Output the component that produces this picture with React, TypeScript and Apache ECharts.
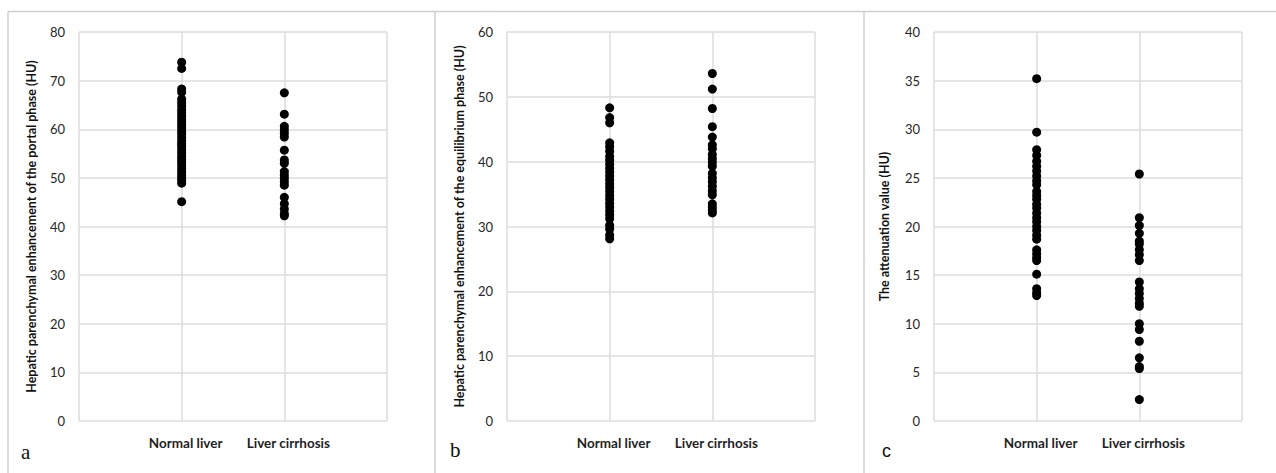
import React, { useEffect, useRef } from "react";
import * as echarts from "echarts";

const categories = ["Normal liver", "Liver cirrhosis"];

const portalNormal = [73.8, 72.5, 68.3, 67.6, 66.2, 65.5, 64.8, 64.0, 63.4, 62.8, 62.1, 61.5, 60.9, 60.3, 59.6, 59.0, 58.3, 57.6, 57.0, 56.5, 55.8, 55.1, 54.4, 53.8, 53.2, 52.6, 51.9, 51.2, 50.6, 50.0, 49.5, 48.9, 45.1];
const portalCirrhosis = [67.5, 63.1, 60.6, 59.9, 59.2, 58.4, 55.7, 53.7, 53.0, 51.3, 50.6, 49.9, 49.2, 48.5, 46.0, 44.7, 43.6, 42.6, 42.2];

const equilNormal = [48.3, 46.8, 46.0, 42.9, 42.3, 41.6, 40.8, 40.2, 39.6, 39.0, 38.4, 37.8, 37.2, 36.6, 36.0, 35.4, 34.8, 34.2, 33.6, 33.0, 32.4, 31.8, 31.2, 30.2, 29.6, 28.7, 28.1];
const equilCirrhosis = [53.6, 51.2, 48.2, 45.4, 43.8, 42.6, 42.0, 41.1, 40.5, 39.9, 39.3, 38.2, 37.5, 36.9, 36.2, 35.5, 34.9, 33.5, 33.0, 32.5, 32.1];

const attenNormal = [35.2, 29.7, 27.9, 27.3, 26.7, 26.2, 25.7, 25.2, 24.7, 24.3, 23.6, 23.2, 22.8, 22.3, 21.9, 21.4, 20.9, 20.5, 20.0, 19.6, 19.1, 18.7, 17.6, 17.2, 16.8, 16.5, 15.1, 13.6, 13.2, 12.9];
const attenCirrhosis = [25.4, 20.9, 20.1, 19.3, 18.5, 18.2, 17.6, 17.1, 16.5, 14.3, 13.6, 13.1, 12.6, 12.1, 11.8, 10.0, 9.4, 8.2, 6.5, 5.6, 5.4, 2.2];

const yTitles = [
  "Hepatic parenchymal enhancement of the portal phase (HU)",
  "Hepatic parenchymal enhancement of the equilibrium phase (HU)",
  "The attenuation value (HU)",
];
const yMax = [80, 60, 40];
const yInterval = [10, 10, 5];
const panelLetters = ["a", "b", "c"];

export default function App() {
  const ref = useRef<HTMLDivElement>(null);
  useEffect(() => {
    if (!ref.current) return;
    const chart = echarts.init(ref.current, null, { renderer: "svg" });
    const gridLefts = [79, 507, 934];
    const panels = [
      [portalNormal, portalCirrhosis],
      [equilNormal, equilCirrhosis],
      [attenNormal, attenCirrhosis],
    ];
    const grid = gridLefts.map((l) => ({ left: l, top: 32, width: 308, height: 389 }));
    const splitLine = { show: true, lineStyle: { color: "#dcdcdc", width: 1.5 } };
    const xAxis = gridLefts.map((_, i) => ({
      type: "value",
      gridIndex: i,
      min: 0,
      max: 3,
      interval: 1,
      axisLine: { show: false },
      axisTick: { show: false },
      splitLine,
      axisLabel: {
        margin: 15,
        fontFamily: "Lato",
        fontWeight: "bold",
        fontSize: 13.5,
        color: "#1f1f1f",
        padding: [0, 0, 0, 8],
        formatter: (v: number) => (v >= 1 && v <= 2 ? categories[v - 1] : ""),
      },
    }));
    const yAxis = gridLefts.map((_, i) => ({
      type: "value",
      gridIndex: i,
      min: 0,
      max: yMax[i],
      interval: yInterval[i],
      axisLine: { show: false },
      axisTick: { show: false },
      splitLine,
      axisLabel: { margin: 14, fontFamily: "Lato", fontSize: 13, color: "#262626" },
      name: yTitles[i],
      nameLocation: "middle",
      nameRotate: 90,
      nameGap: i === 2 ? 43 : 41,
      nameTextStyle: { fontFamily: "Lato", fontWeight: "bold", fontSize: 12.5, color: "#111" },
    }));
    const series: any[] = [];
    panels.forEach((p, i) => {
      p.forEach((vals, j) => {
        series.push({
          type: "scatter",
          xAxisIndex: i,
          yAxisIndex: i,
          symbol: "circle",
          symbolSize: 9,
          itemStyle: { color: "#000", opacity: 1 },
          data: vals.map((v) => [j + 1, v]),
        });
      });
    });
    const borderStyle = { stroke: "#cfcfcf", lineWidth: 1.5 };
    const graphic: any[] = [
      { type: "line", shape: { x1: 8, y1: 11.5, x2: 1276, y2: 11.5 }, style: borderStyle },
      { type: "line", shape: { x1: 8, y1: 11.5, x2: 8, y2: 473 }, style: borderStyle },
      { type: "line", shape: { x1: 435, y1: 11.5, x2: 435, y2: 473 }, style: borderStyle },
      { type: "line", shape: { x1: 864, y1: 11.5, x2: 864, y2: 473 }, style: borderStyle },
      { type: "text", left: 21, top: 441, style: { text: panelLetters[0], font: "21px 'Liberation Serif'", fill: "#111" } },
      { type: "text", left: 450, top: 439, style: { text: panelLetters[1], font: "21px 'Liberation Serif'", fill: "#111" } },
      { type: "text", left: 882, top: 442, style: { text: panelLetters[2], font: "18px 'Liberation Sans'", fill: "#111" } },
    ];
    chart.setOption({
      animation: false,
      backgroundColor: "#fff",
      grid,
      xAxis,
      yAxis,
      series,
      graphic,
    });
    return () => chart.dispose();
  }, []);
  return (
    <div
      ref={ref}
      style={{ position: "fixed", left: 0, top: 0, width: 1276, height: 473 }}
    />
  );
}
